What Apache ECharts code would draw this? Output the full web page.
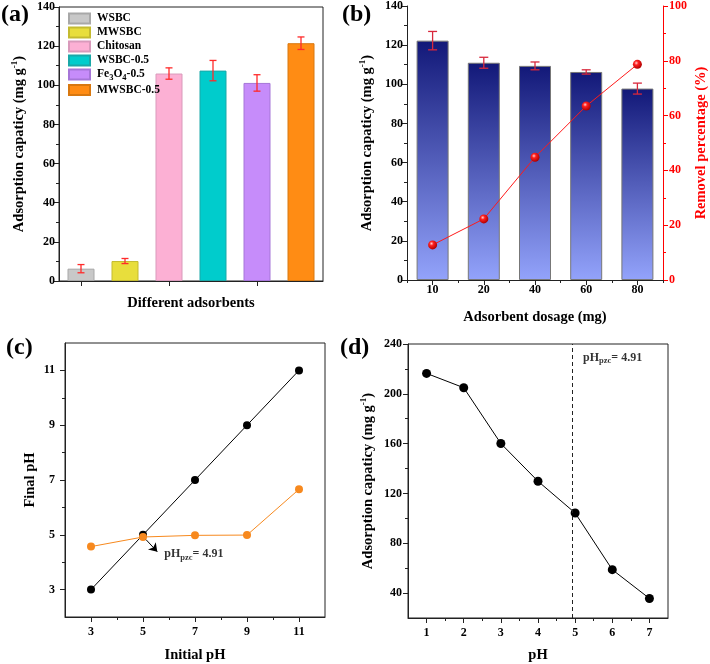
<!DOCTYPE html>
<html>
<head>
<meta charset="utf-8">
<style>html,body{margin:0;padding:0;background:#fff;}#chart{width:710px;height:664px;}</style>
<script src="https://cdn.jsdelivr.net/npm/echarts@6/dist/echarts.min.js"></script>
</head>
<body>
<div id="chart"></div>
<script>
// ---- (a) data ----
const adsorbents = ['WSBC', 'MWSBC', 'Chitosan', 'WSBC-0.5', 'Fe3O4-0.5', 'MWSBC-0.5'];
const adsorbentCap = [6.3, 10.2, 106.0, 107.5, 101.2, 121.5];
const adsorbentErr = [2.1, 1.3, 2.9, 5.2, 4.2, 3.2];
const capTicksA = [0, 140, 20];
// ---- (b) data ----
const dosages = ['10', '20', '40', '60', '80'];
const dosageCap = [122.3, 111.0, 109.4, 106.3, 97.8];
const dosageErr = [4.7, 2.8, 2.0, 1.1, 2.8];
const removal = [12.8, 22.3, 44.8, 63.5, 78.7];
// ---- (c) data ----
const initialPH = [3, 5, 7, 9, 11];
const blankPH = [3, 5, 7, 9, 11];
const finalPH = [4.57, 4.92, 4.98, 4.99, 6.66];
const cTickLabels = [3, 5, 7, 9, 11];
const cMinorTicks = [4, 6, 8, 10];
const arrowC = [[5.12, 4.82], [5.55, 4.38]];
const labelC = [5.8, 4.3];
// ---- (d) data ----
const solutionPH = [1, 2, 3, 4, 5, 6, 7];
const capPH = [216.4, 204.9, 160.1, 129.8, 104.3, 58.8, 35.7];
const pHpzc = 4.91;
const dXTicks = [1, 2, 3, 4, 5, 6, 7];
const dXMinor = [1.5, 2.5, 3.5, 4.5, 5.5, 6.5];
const dYTicks = [40, 80, 120, 160, 200, 240];
const dYMinor = [60, 100, 140, 180, 220];
const labelD = [5.2, 229];

// ---- styles ----
const FF = 'Liberation Serif';
const barColors = ['#c8c8c8', '#e8de3c', '#fcb0d4', '#00cccc', '#c68cfa', '#ff8c14'];
const barBorders = ['#a8a8a8', '#c4bb30', '#d99abb', '#1aa8a8', '#a676d8', '#d87810'];
const lineC = '#222';
const tickLabel = { fontFamily: FF, fontWeight: 'bold', fontSize: 12, color: '#000' };
const nameStyle = {
  fontFamily: FF, fontWeight: 'bold', fontSize: 14.5, color: '#000',
  rich: {
    sup: { fontFamily: FF, fontWeight: 'bold', fontSize: 9, color: '#000', padding: [0, 0, 9, 0] },
    sub: { fontFamily: FF, fontWeight: 'bold', fontSize: 9, color: '#000', padding: [8, 0, 0, 0] }
  }
};
const subRich = {
  sub: { fontFamily: FF, fontWeight: 'bold', fontSize: 8.5, color: '#000', padding: [7, 0, 0, 0] }
};

function axisBase(extra) {
  return Object.assign({
    axisLine: { show: true, onZero: false, lineStyle: { color: lineC, width: 1 } },
    axisTick: { show: true, length: 5, lineStyle: { color: lineC } },
    axisLabel: Object.assign({ margin: 5 }, tickLabel),
    splitLine: { show: false },
    nameTextStyle: nameStyle,
    nameLocation: 'middle'
  }, extra);
}

function errRender(capW, color) {
  return function (params, api) {
    const x = api.value(0);
    const pLo = api.coord([x, api.value(1)]);
    const pHi = api.coord([x, api.value(2)]);
    const hw = capW / 2;
    const st = { stroke: color, lineWidth: 1.3 };
    return {
      type: 'group', children: [
        { type: 'line', shape: { x1: pHi[0], y1: pHi[1], x2: pLo[0], y2: pLo[1] }, style: st },
        { type: 'line', shape: { x1: pHi[0] - hw, y1: pHi[1], x2: pHi[0] + hw, y2: pHi[1] }, style: st },
        { type: 'line', shape: { x1: pLo[0] - hw, y1: pLo[1], x2: pLo[0] + hw, y2: pLo[1] }, style: st }
      ]
    };
  };
}

function textSeries(xi, yi, point) {
  return {
    type: 'scatter', xAxisIndex: xi, yAxisIndex: yi, silent: true, z: 10,
    symbol: 'circle', symbolSize: 1, itemStyle: { color: 'rgba(0,0,0,0)' },
    data: [point],
    label: {
      show: true, position: 'right', distance: 0,
      formatter: 'pH{sub|pzc}= ' + pHpzc,
      fontFamily: FF, fontWeight: 'bold', fontSize: 12, color: '#000', rich: subRich
    }
  };
}

const chart = echarts.init(document.getElementById('chart'), null, { renderer: 'canvas' });

const series = [];
// (a) bars, one series per adsorbent so the legend lists each
adsorbents.forEach((name, i) => {
  series.push({
    type: 'bar', name: name, xAxisIndex: 0, yAxisIndex: 0,
    barWidth: 27, barGap: '-100%',
    data: adsorbents.map((_, j) => (j === i ? adsorbentCap[i] : null)),
    itemStyle: { color: barColors[i], borderColor: barBorders[i], borderWidth: 1 }
  });
});
series.push({
  type: 'custom', xAxisIndex: 0, yAxisIndex: 0, silent: true, z: 5,
  renderItem: errRender(7, '#ff2a2a'),
  encode: { x: 0, y: [1, 2] },
  data: adsorbents.map((c, i) => [i, adsorbentCap[i] - adsorbentErr[i], adsorbentCap[i] + adsorbentErr[i]])
});
// (b)
series.push({
  type: 'bar', xAxisIndex: 1, yAxisIndex: 1, barWidth: 32,
  data: dosageCap,
  itemStyle: {
    color: new echarts.graphic.LinearGradient(0, 0, 0, 1, [
      { offset: 0, color: '#121878' }, { offset: 1, color: '#93a3fb' }
    ]),
    borderColor: '#777', borderWidth: 1
  }
});
series.push({
  type: 'custom', xAxisIndex: 1, yAxisIndex: 1, silent: true, z: 5,
  renderItem: errRender(9, '#d8283c'),
  encode: { x: 0, y: [1, 2] },
  data: dosages.map((c, i) => [i, dosageCap[i] - dosageErr[i], dosageCap[i] + dosageErr[i]])
});
series.push({
  type: 'line', xAxisIndex: 1, yAxisIndex: 2, data: removal, z: 6,
  symbol: 'circle', symbolSize: 9,
  lineStyle: { color: '#ff1a1a', width: 1 },
  itemStyle: {
    color: new echarts.graphic.RadialGradient(0.38, 0.35, 0.65, [
      { offset: 0, color: '#ffd0d0' }, { offset: 0.35, color: '#ff2020' }, { offset: 1, color: '#b00000' }
    ])
  }
});
// (c)
series.push({
  type: 'line', xAxisIndex: 3, yAxisIndex: 3,
  data: initialPH.map((x, i) => [x, blankPH[i]]),
  symbol: 'circle', symbolSize: 8,
  lineStyle: { color: '#000', width: 1 }, itemStyle: { color: '#000' }
});
series.push({
  type: 'line', xAxisIndex: 3, yAxisIndex: 3,
  data: initialPH.map((x, i) => [x, finalPH[i]]),
  symbol: 'circle', symbolSize: 8,
  lineStyle: { color: '#f7891e', width: 1 }, itemStyle: { color: '#f7891e' }
});
series.push({
  type: 'lines', coordinateSystem: 'cartesian2d', xAxisIndex: 3, yAxisIndex: 3, silent: true, z: 8,
  symbol: ['none', 'arrow'], symbolSize: 8,
  lineStyle: { color: '#000', width: 1, opacity: 1 },
  data: [{ coords: arrowC }]
});
series.push(textSeries(3, 3, labelC));
// (d)
series.push({
  type: 'line', xAxisIndex: 5, yAxisIndex: 5,
  data: solutionPH.map((x, i) => [x, capPH[i]]),
  symbol: 'circle', symbolSize: 9,
  lineStyle: { color: '#000', width: 1 }, itemStyle: { color: '#000' },
  markLine: {
    silent: true, symbol: ['none', 'none'],
    lineStyle: { color: '#222', width: 1, type: [4, 3] }, label: { show: false },
    data: [{ xAxis: pHpzc }]
  }
});
series.push(textSeries(5, 5, labelD));

const option = {
  animation: false,
  backgroundColor: '#fff',
  graphic: [
    { type: 'text', left: 1, top: 3, style: { text: '(a)', font: 'bold 24px "Liberation Serif"', fill: '#000' } },
    { type: 'text', left: 342, top: 3, style: { text: '(b)', font: 'bold 24px "Liberation Serif"', fill: '#000' } },
    { type: 'text', left: 6, top: 336, style: { text: '(c)', font: 'bold 24px "Liberation Serif"', fill: '#000' } },
    { type: 'text', left: 340, top: 336, style: { text: '(d)', font: 'bold 24px "Liberation Serif"', fill: '#000' } }
  ],
  legend: {
    orient: 'vertical', left: 68, top: 12, padding: 0, itemWidth: 21, itemHeight: 10, itemGap: 1,
    icon: 'rect', selectedMode: false,
    data: adsorbents,
    formatter: function (n) { return n.replace('Fe3O4', 'Fe{sub|3}O{sub|4}'); },
    textStyle: { fontFamily: FF, fontWeight: 'bold', fontSize: 11.5, color: '#000', lineHeight: 13, padding: [0, 0, 0, 2], rich: subRich }
  },
  grid: [
    { left: 59, top: 7, width: 264, height: 274, show: true, borderColor: lineC, borderWidth: 1 },
    { left: 407, top: 6, width: 260, height: 274 },
    { left: 65, top: 343, width: 260, height: 275, show: true, borderColor: lineC, borderWidth: 1 },
    { left: 408, top: 344, width: 260, height: 274, show: true, borderColor: lineC, borderWidth: 1 }
  ],
  xAxis: [
    axisBase({ type: 'category', gridIndex: 0, data: adsorbents, position: 'bottom',
      axisTick: { show: true, alignWithLabel: true, length: 5, lineStyle: { color: lineC } },
      axisLabel: { show: false }, name: 'Different adsorbents', nameGap: 15 }),
    axisBase({ type: 'category', gridIndex: 1, data: dosages, position: 'bottom',
      axisTick: { show: true, alignWithLabel: true, length: 5, lineStyle: { color: lineC } },
      axisLabel: Object.assign({ margin: 4 }, tickLabel),
      name: 'Adsorbent dosage (mg)', nameGap: 30 }),
    axisBase({ type: 'category', gridIndex: 1, data: dosages, position: 'bottom',
      axisLine: { show: false, onZero: false }, axisLabel: { show: false },
      axisTick: { show: true, alignWithLabel: false, length: 3, lineStyle: { color: lineC } } }),
    axisBase({ type: 'value', gridIndex: 2, min: 2, max: 12, position: 'bottom',
      axisLabel: Object.assign({ margin: 9, customValues: cTickLabels }, tickLabel),
      axisTick: { show: true, length: 5, customValues: cTickLabels, lineStyle: { color: lineC } },
      name: 'Initial pH', nameGap: 31 }),
    axisBase({ type: 'value', gridIndex: 2, min: 2, max: 12, position: 'bottom',
      axisLine: { show: false, onZero: false }, axisLabel: { show: false },
      axisTick: { show: true, length: 3, customValues: cMinorTicks, lineStyle: { color: lineC } } }),
    axisBase({ type: 'value', gridIndex: 3, min: 0.5, max: 7.5, position: 'bottom',
      axisLabel: Object.assign({ margin: 9, customValues: dXTicks }, tickLabel),
      axisTick: { show: true, length: 5, customValues: dXTicks, lineStyle: { color: lineC } },
      name: 'pH', nameGap: 30 }),
    axisBase({ type: 'value', gridIndex: 3, min: 0.5, max: 7.5, position: 'bottom',
      axisLine: { show: false, onZero: false }, axisLabel: { show: false },
      axisTick: { show: true, length: 3, customValues: dXMinor, lineStyle: { color: lineC } } })
  ],
  yAxis: [
    axisBase({ type: 'value', gridIndex: 0, min: capTicksA[0], max: capTicksA[1], interval: capTicksA[2], position: 'left',
      minorTick: { show: true, splitNumber: 2, length: 3, lineStyle: { color: lineC } },
      axisLabel: Object.assign({ margin: 4 }, tickLabel),
      name: 'Adsorption capaticy (mg g{sup|-1})', nameRotate: 90, nameGap: 31 }),
    axisBase({ type: 'value', gridIndex: 1, min: 0, max: 140, interval: 20, position: 'left',
      minorTick: { show: true, splitNumber: 2, length: 3, lineStyle: { color: lineC } },
      axisLabel: Object.assign({ margin: 4 }, tickLabel),
      name: 'Adsorption capaticy (mg g{sup|-1})', nameRotate: 90, nameGap: 31 }),
    axisBase({ type: 'value', gridIndex: 1, min: 0, max: 100, interval: 20, position: 'right',
      axisLine: { show: true, onZero: false, lineStyle: { color: '#ff0000', width: 1 } },
      axisTick: { show: true, length: 5, lineStyle: { color: '#ff0000' } },
      minorTick: { show: true, splitNumber: 2, length: 3, lineStyle: { color: '#ff0000' } },
      axisLabel: Object.assign({}, tickLabel, { color: '#ff0000', margin: 6 }),
      name: 'Removel percentage (%)', nameRotate: 90, nameGap: 31,
      nameTextStyle: Object.assign({}, nameStyle, { color: '#ff0000' }) }),
    axisBase({ type: 'value', gridIndex: 2, min: 2, max: 12, position: 'left',
      axisLabel: Object.assign({ margin: 10, customValues: cTickLabels }, tickLabel),
      axisTick: { show: true, length: 5, customValues: cTickLabels, lineStyle: { color: lineC } },
      name: 'Final pH', nameRotate: 90, nameGap: 27 }),
    axisBase({ type: 'value', gridIndex: 2, min: 2, max: 12, position: 'left',
      axisLine: { show: false, onZero: false }, axisLabel: { show: false },
      axisTick: { show: true, length: 3, customValues: cMinorTicks, lineStyle: { color: lineC } } }),
    axisBase({ type: 'value', gridIndex: 3, min: 20, max: 240, position: 'left',
      axisLabel: Object.assign({ margin: 6, customValues: dYTicks }, tickLabel),
      axisTick: { show: true, length: 5, customValues: dYTicks, lineStyle: { color: lineC } },
      name: 'Adsorption capaticy (mg g{sup|-1})', nameRotate: 90, nameGap: 31 }),
    axisBase({ type: 'value', gridIndex: 3, min: 20, max: 240, position: 'left',
      axisLine: { show: false, onZero: false }, axisLabel: { show: false },
      axisTick: { show: true, length: 3, customValues: dYMinor, lineStyle: { color: lineC } } })
  ],
  series: series
};
chart.setOption(option);
</script>
</body>
</html>
